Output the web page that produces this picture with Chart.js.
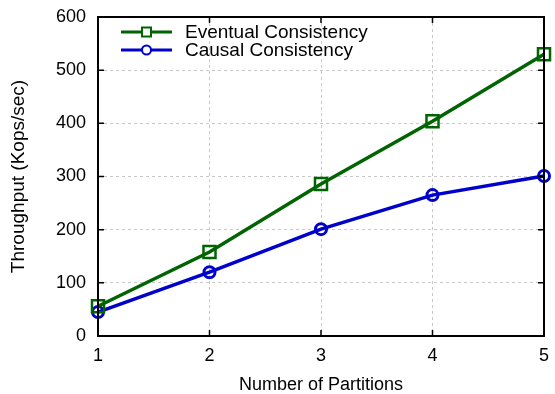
<!DOCTYPE html>
<html>
<head>
  <title>Throughput vs Partitions</title>
  <script src="https://cdn.jsdelivr.net/npm/chart.js"></script>
  <style>
    body { margin: 0; background: #fff; }
    #wrap { width: 555px; height: 394px; }
  </style>
</head>
<body>
  <div id="wrap"><canvas id="tputChart" width="555" height="394"></canvas></div>
  <script>
    const partitions = [1, 2, 3, 4, 5];
    const eventual = [56, 158, 286, 404, 530];
    const causal = [45, 120, 201, 265, 301];
    const yTicks = [0, 100, 200, 300, 400, 500, 600];

    const FONT = 'Liberation Sans, Arial, sans-serif';

    // gnuplot style frame: box, inward ticks on all four sides, legend inside
    const framePlugin = {
      id: 'frame',
      afterDatasetsDraw(chart) {
        const { ctx, chartArea: a, scales } = chart;
        ctx.save();
        ctx.strokeStyle = '#000';
        ctx.lineWidth = 1.5;
        const len = 6;
        ctx.beginPath();
        partitions.forEach(v => {
          const x = scales.x.getPixelForValue(v);
          ctx.moveTo(x, a.bottom); ctx.lineTo(x, a.bottom - len);
          ctx.moveTo(x, a.top); ctx.lineTo(x, a.top + len);
        });
        yTicks.forEach(v => {
          const y = scales.y.getPixelForValue(v);
          ctx.moveTo(a.left, y); ctx.lineTo(a.left + len, y);
          ctx.moveTo(a.right, y); ctx.lineTo(a.right - len, y);
        });
        ctx.stroke();
        ctx.lineWidth = 2;
        ctx.strokeRect(a.left, a.top, a.right - a.left, a.bottom - a.top);

        // legend
        ctx.font = '19px ' + FONT;
        ctx.textBaseline = 'middle';
        chart.data.datasets.forEach((ds, i) => {
          const y = a.top + 15 + i * 18;
          const x0 = a.left + 23, x1 = a.left + 74, xm = (x0 + x1) / 2;
          ctx.strokeStyle = ds.borderColor;
          ctx.lineWidth = 3;
          ctx.beginPath(); ctx.moveTo(x0, y); ctx.lineTo(x1, y); ctx.stroke();
          ctx.lineWidth = 2;
          ctx.fillStyle = '#fff';
          if (ds.pointStyle === 'rect') {
            ctx.fillRect(xm - 4.5, y - 4.5, 9, 9);
            ctx.strokeRect(xm - 4.5, y - 4.5, 9, 9);
          } else {
            ctx.beginPath(); ctx.arc(xm, y, 4.5, 0, Math.PI * 2); ctx.fill(); ctx.stroke();
          }
          ctx.fillStyle = '#000';
          ctx.fillText(ds.label, a.left + 87, y + 1);
        });
        ctx.restore();
      }
    };

    const ctx = document.getElementById('tputChart').getContext('2d');
    const tputChart = new Chart(ctx, {
      type: 'line',
      data: {
        datasets: [
          {
            label: 'Eventual Consistency',
            data: partitions.map((p, i) => ({ x: p, y: eventual[i] })),
            borderColor: '#006400',
            backgroundColor: 'rgba(255,255,255,0)',
            borderWidth: 3.5,
            pointStyle: 'rect',
            pointRadius: 8.5,
            pointBorderWidth: 2.5,
            clip: false,
            tension: 0,
          },
          {
            label: 'Causal Consistency',
            data: partitions.map((p, i) => ({ x: p, y: causal[i] })),
            borderColor: '#0000cc',
            backgroundColor: 'rgba(255,255,255,0)',
            borderWidth: 3.5,
            pointStyle: 'circle',
            pointRadius: 5.5,
            pointBorderWidth: 3,
            clip: false,
            tension: 0,
          }
        ]
      },
      options: {
        responsive: false,
        animation: false,
        layout: { padding: { top: 17, right: 9, left: 0, bottom: 0 } },
        plugins: { legend: { display: false }, tooltip: { enabled: false } },
        scales: {
          x: {
            type: 'linear',
            min: 1,
            max: 5,
            afterBuildTicks: s => { s.ticks = partitions.map(v => ({ value: v })); },
            afterFit: s => { s.height = 58; s.paddingLeft = 0; s.paddingRight = 0; },
            grid: { color: '#c8c8c8', lineWidth: 1, drawTicks: false },
            border: { display: false, dash: [3, 3] },
            ticks: { color: '#000', padding: 9, font: { family: FONT, size: 18 } },
            title: {
              display: true,
              text: 'Number of Partitions',
              color: '#000',
              padding: { top: 3, bottom: -2 },
              font: { family: FONT, size: 18 }
            }
          },
          y: {
            min: 0,
            max: 600,
            afterBuildTicks: s => { s.ticks = yTicks.map(v => ({ value: v })); },
            afterFit: s => { s.width = 98; s.paddingTop = 0; s.paddingBottom = 0; },
            grid: { color: '#c8c8c8', lineWidth: 1, drawTicks: false },
            border: { display: false, dash: [3, 3] },
            ticks: { color: '#000', padding: 12, font: { family: FONT, size: 18 } },
            title: {
              display: true,
              text: 'Throughput (Kops/sec)',
              color: '#000',
              padding: { top: 7, bottom: 0 },
              font: { family: FONT, size: 19 }
            }
          }
        }
      },
      plugins: [framePlugin]
    });
  </script>
</body>
</html>
